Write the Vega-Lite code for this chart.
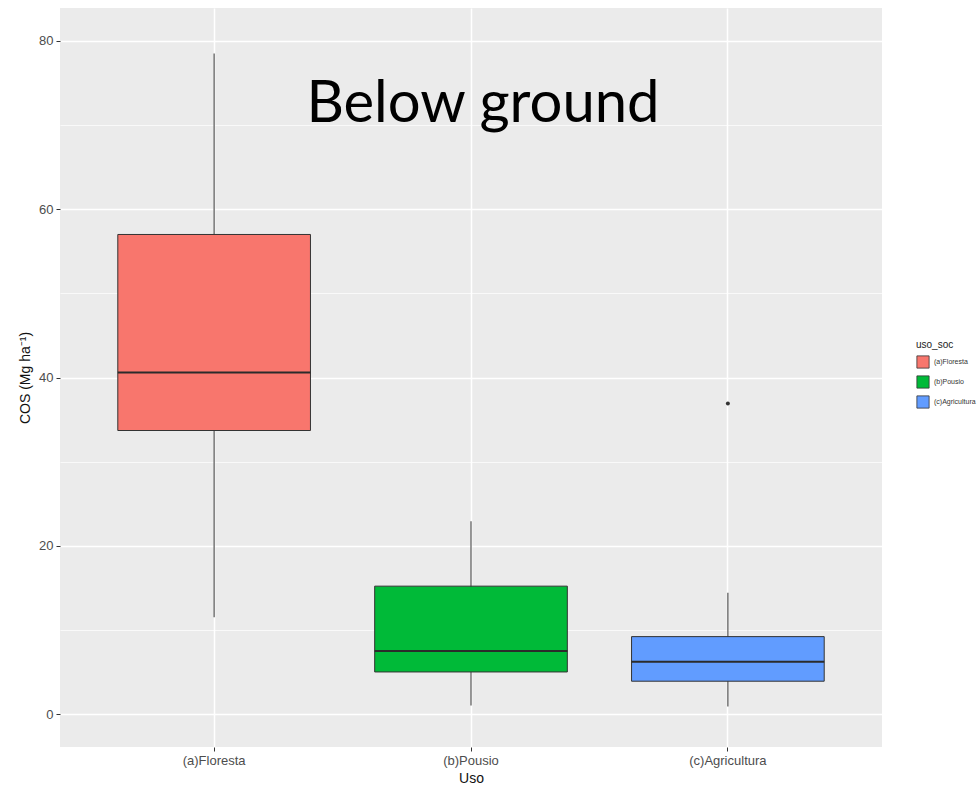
{
  "$schema": "https://vega.github.io/schema/vega-lite/v6.json",
  "width": 822,
  "height": 739,
  "autosize": {"type": "none"},
  "padding": {"left": 60, "top": 8, "right": 97, "bottom": 43},
  "background": "white",
  "config": {
    "view": {"fill": "#EBEBEB", "stroke": null},
    "font": "Liberation Sans",
    "axis": {
      "domain": false,
      "tickColor": "#333333",
      "tickSize": 4,
      "labelColor": "#4D4D4D",
      "labelFontSize": 13,
      "labelFont": "Liberation Sans",
      "titleFont": "Liberation Sans",
      "titleFontSize": 14,
      "titleColor": "#111111",
      "titleFontWeight": "normal",
      "gridColor": "#FFFFFF",
      "gridWidth": 1.5
    },
    "legend": {
      "orient": "none",
      "legendX": 856,
      "legendY": 332,
      "titleFontSize": 10,
      "titleFontWeight": "normal",
      "titleColor": "#222222",
      "titleFont": "Liberation Sans",
      "labelFont": "Liberation Sans",
      "labelFontSize": 7,
      "labelColor": "#333333",
      "symbolType": "square",
      "symbolSize": 150,
      "symbolStrokeColor": "#333333",
      "symbolStrokeWidth": 0.8,
      "rowPadding": 4,
      "labelOffset": 4
    }
  },
  "datasets": {
    "boxes": [
      {"uso": "(a)Floresta", "lower": 11.5, "q1": 33.7, "median": 40.6, "q3": 57.0, "upper": 78.5},
      {"uso": "(b)Pousio", "lower": 1.0, "q1": 5.0, "median": 7.5, "q3": 15.2, "upper": 22.9},
      {"uso": "(c)Agricultura", "lower": 0.9, "q1": 3.9, "median": 6.2, "q3": 9.2, "upper": 14.4}
    ],
    "outliers": [
      {"uso": "(c)Agricultura", "value": 36.9}
    ],
    "annot": [
      {"uso": "(b)Pousio", "y": 70.4, "label": "Below ground"}
    ]
  },
  "layer": [
    {
      "data": {"name": "boxes"},
      "mark": {"type": "rule", "color": "#555555", "strokeWidth": 1.2},
      "encoding": {
        "x": {
          "field": "uso", "type": "nominal",
          "scale": {"type": "band", "paddingInner": 0.25, "paddingOuter": 0.225, "domain": ["(a)Floresta", "(b)Pousio", "(c)Agricultura"]},
          "axis": {"title": "Uso", "labelAngle": 0, "grid": true, "labelPadding": 3, "titlePadding": 4}
        },
        "y": {
          "field": "lower", "type": "quantitative",
          "scale": {"domain": [-3.92, 83.92], "nice": false, "zero": false},
          "axis": {"title": "COS (Mg ha⁻¹)", "values": [0, 20, 40, 60, 80], "grid": true, "labelPadding": 3, "titlePadding": 6}
        },
        "y2": {"field": "upper"}
      }
    },
    {
      "data": {"name": "boxes"},
      "mark": {"type": "bar", "stroke": "#333333", "strokeWidth": 1},
      "encoding": {
        "x": {"field": "uso", "type": "nominal"},
        "y": {"field": "q1", "type": "quantitative", "axis": null},
        "y2": {"field": "q3"},
        "color": {
          "field": "uso", "type": "nominal",
          "scale": {"domain": ["(a)Floresta", "(b)Pousio", "(c)Agricultura"], "range": ["#F8766D", "#00BA38", "#619CFF"]},
          "legend": {"title": "uso_soc"}
        }
      }
    },
    {
      "data": {"name": "boxes"},
      "mark": {"type": "bar", "fillOpacity": 0, "stroke": "#2b2b2b", "strokeWidth": 2},
      "encoding": {
        "x": {"field": "uso", "type": "nominal"},
        "y": {"field": "median", "type": "quantitative", "axis": null},
        "y2": {"field": "median"}
      }
    },
    {
      "data": {"name": "outliers"},
      "mark": {"type": "point", "filled": true, "color": "#333333", "size": 16, "opacity": 1},
      "encoding": {
        "x": {"field": "uso", "type": "nominal"},
        "y": {"field": "value", "type": "quantitative",
          "axis": {"orient": "left", "values": [10, 30, 50, 70], "labels": false, "ticks": false, "domain": false, "grid": true, "gridWidth": 0.7, "title": null}}
      }
    },
    {
      "data": {"name": "annot"},
      "mark": {"type": "text", "font": "Lato", "fontSize": 58, "color": "#000000", "baseline": "alphabetic", "align": "center", "dx": 12},
      "encoding": {
        "x": {"field": "uso", "type": "nominal"},
        "y": {"field": "y", "type": "quantitative", "axis": null},
        "text": {"field": "label"}
      }
    }
  ],
  "resolve": {"axis": {"y": "independent"}}
}
